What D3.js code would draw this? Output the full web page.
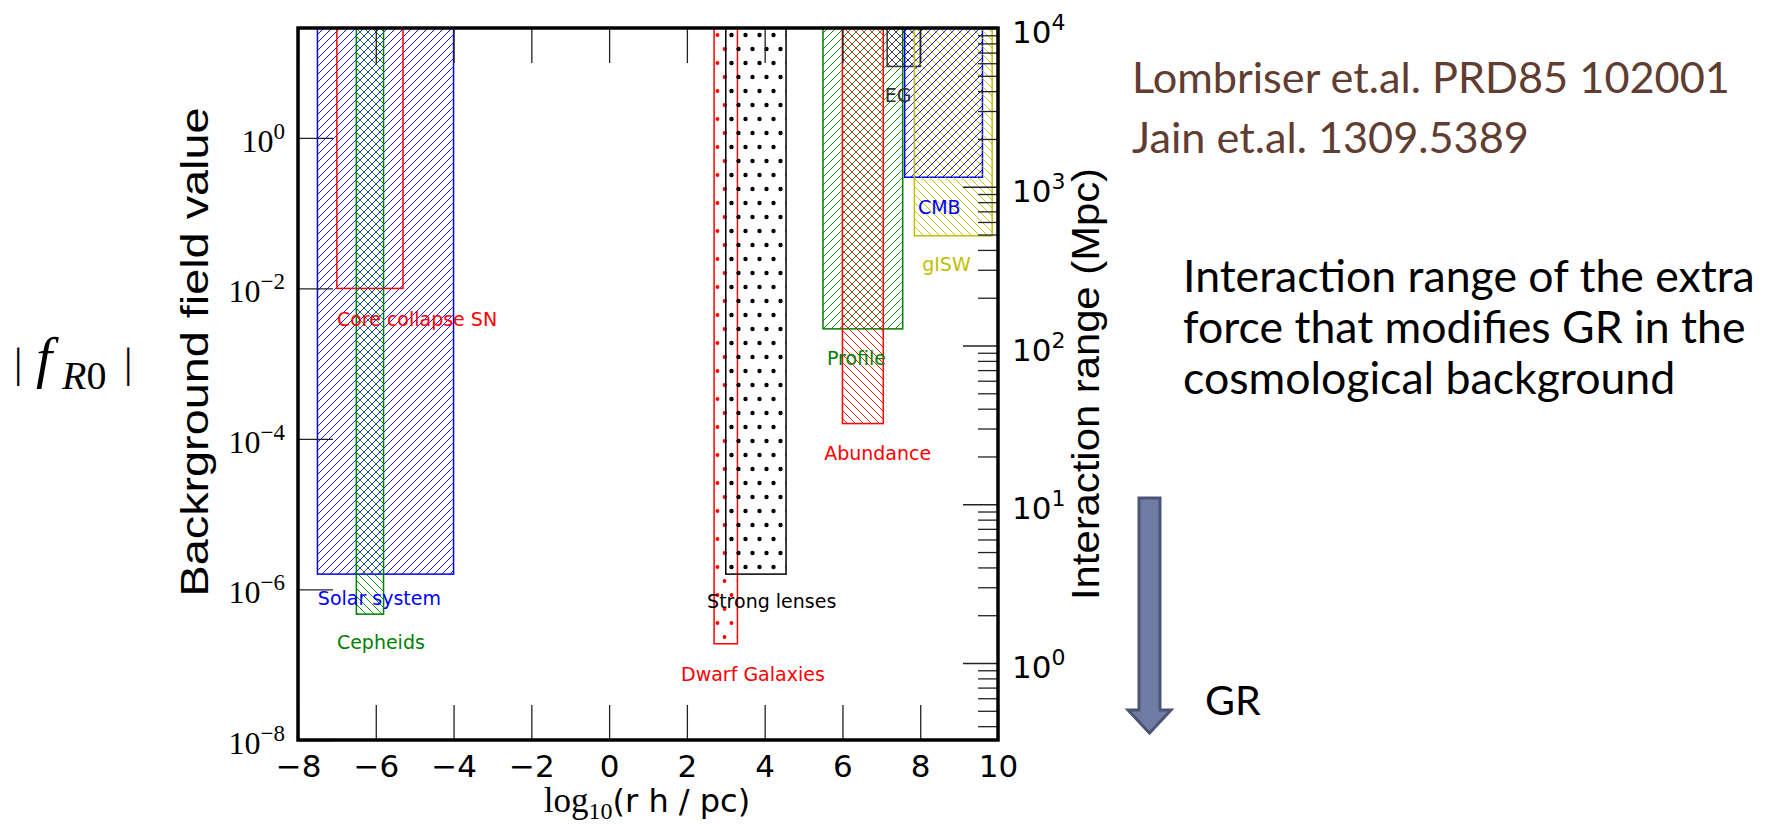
<!DOCTYPE html>
<html>
<head>
<meta charset="utf-8">
<script src="https://cdn.jsdelivr.net/npm/d3@7"></script>
<style>
  body { margin: 0; background: #fff; }
  svg { display: block; }
</style>
</head>
<body>
<svg id="chart" width="1775" height="825"></svg>
<script>
// ---- constraint data -------------------------------------------------------
// Each probe excludes |f_R0| above its lower bound, over a range of scales
// log10(r h / pc) from xLow to xHigh.
const probes  = ["Solar system", "Core collapse SN", "Cepheids", "Dwarf Galaxies", "Strong lenses",
                 "Profile", "Abundance", "EG", "CMB", "gISW"];
const xLow    = [-7.5, -7.0, -6.5, 2.7, 3.0, 5.5, 6.0, 7.15, 7.6, 7.85];
const xHigh   = [-4.0, -5.3, -5.8, 3.3, 4.55, 7.55, 7.05, 8.0, 9.6, 9.85];
const fLow    = [1.6e-6, 1e-2, 4.7e-7, 1.9e-7, 1.6e-6, 2.9e-3, 1.6e-4, 8.9, 0.3, 0.05];
const fHigh   = 1e3;                       // open upper end, clipped by the axes
const probeColor = ["#0000ff", "#ff0000", "#008000", "#ff0000", "#000000",
                    "#008000", "#ff0000", "#333333", "#0000ff", "#bfbf00"];
const probeHatch = ["fwd", "none", "back", "dots", "dots", "fwd", "back", "cross", "fwd", "back"];
// label anchors in data coordinates [log10 r, |f_R0|]
const labelX  = [-7.49, -7.0, -7.0, 1.85, 2.52, 5.6, 5.53, 7.09, 7.94, 8.05];
const labelF  = [6.2e-7, 3.2e-3, 1.6e-7, 6.1e-8, 5.6e-7, 9.6e-4, 5.2e-5, 3.0, 0.098, 0.017];

// ---- axes ---------------------------------------------------------------
const xDomain = [-8, 10];
const xTicks = [-8, -6, -4, -2, 0, 2, 4, 6, 8, 10];
const fDomain = [1e-8, Math.pow(10, 1.46)];
const fTicks = [1e-8, 1e-6, 1e-4, 1e-2, 1];
const rangeDomain = [Math.pow(10, -0.485), 1e4];      // interaction range (Mpc)
const rangeTicks = [1, 10, 100, 1000, 10000];

const xLabelText = { fn: "log", sub: "10", rest: "(r h / pc)" };
const yLabelText = "Backrground field value";
const y2LabelText = "Interaction range (Mpc)";
const refLines = ["Lombriser et.al. PRD85 102001", "Jain et.al. 1309.5389"];
const noteLines = ["Interaction range of the extra", "force that modifies GR in the", "cosmological background"];
const arrowText = "GR";

// ---- layout -------------------------------------------------------------
const P = { left: 298, right: 998, top: 28, bottom: 740 };
const svg = d3.select("#chart");
const defs = svg.append("defs");

const x = d3.scaleLinear().domain(xDomain).range([P.left, P.right]);
const y = d3.scaleLog().domain(fDomain).range([P.bottom, P.top]);
const y2 = d3.scaleLog().domain(rangeDomain).range([P.bottom, P.top]);

defs.append("clipPath").attr("id", "plotClip")
  .append("rect").attr("x", P.left).attr("y", P.top)
  .attr("width", P.right - P.left).attr("height", P.bottom - P.top);

// hatch fills, anchored to the page so neighbouring regions line up
function hatchPattern(id, color, kind) {
  if (kind === "none") return null;
  if (kind === "dots") {
    const p = defs.append("pattern").attr("id", id)
      .attr("patternUnits", "userSpaceOnUse").attr("width", 14).attr("height", 28);
    const r = color === "#000000" ? 2.2 : 1.9;
    [[3.5, 7], [10.5, 21]].forEach(([cx, cy]) =>
      p.append("circle").attr("cx", cx).attr("cy", cy).attr("r", r).attr("fill", color));
    return `url(#${id})`;
  }
  const s = 8;
  const p = defs.append("pattern").attr("id", id)
    .attr("patternUnits", "userSpaceOnUse").attr("width", s).attr("height", s);
  const fwd = `M-2,2 L2,-2 M0,${s} L${s},0 M${s - 2},${s + 2} L${s + 2},${s - 2}`;
  const back = `M-2,${s - 2} L2,${s + 2} M0,0 L${s},${s} M${s - 2},-2 L${s + 2},2`;
  const d = kind === "fwd" ? fwd : kind === "back" ? back : fwd + " " + back;
  p.append("path").attr("d", d).attr("stroke", color).attr("stroke-width", 0.9).attr("fill", "none");
  return `url(#${id})`;
}

const regions = probes.map((name, i) => ({
  name, x0: xLow[i], x1: xHigh[i], f0: fLow[i], f1: fHigh,
  color: probeColor[i], fill: hatchPattern("hatch" + i, probeColor[i], probeHatch[i]),
  lx: labelX[i], lf: labelF[i]
}));

const plot = svg.append("g").attr("clip-path", "url(#plotClip)");
plot.selectAll("rect.region").data(regions).join("rect")
  .attr("class", "region")
  .attr("x", d => x(d.x0))
  .attr("width", d => x(d.x1) - x(d.x0))
  .attr("y", d => y(d.f1))
  .attr("height", d => y(d.f0) - y(d.f1))
  .attr("fill", d => d.fill || "none")
  .attr("stroke", d => d.color)
  .attr("stroke-width", 1.5);

// region labels
svg.append("g").selectAll("text").data(regions).join("text")
  .attr("x", d => x(d.lx))
  .attr("y", d => y(d.lf))
  .attr("fill", d => d.color)
  .attr("font-family", "DejaVu Sans")
  .attr("font-size", 19)
  .text(d => d.name);

// ---- ticks ----------------------------------------------------------------
const tickColor = "#222";
function styleAxis(g) {
  g.select(".domain").remove();
  g.selectAll(".tick line").attr("stroke", tickColor).attr("stroke-width", 1.3);
}

svg.append("g").attr("transform", `translate(0,${P.bottom})`)
  .call(d3.axisBottom(x).tickValues(xTicks).tickSize(-35).tickPadding(15).tickFormat(d3.format("d")))
  .call(styleAxis)
  .call(g => g.selectAll("text").attr("font-family", "DejaVu Sans").attr("font-size", 31).attr("fill", "#000"));

svg.append("g").attr("transform", `translate(0,${P.top})`)
  .call(d3.axisTop(x).tickValues(xTicks).tickSize(-35).tickFormat(""))
  .call(styleAxis);

svg.append("g").attr("transform", `translate(${P.left},0)`)
  .call(d3.axisLeft(y).tickValues(fTicks).tickSize(-35).tickFormat(""))
  .call(styleAxis);

const rangeMinor = [];
for (let k = -1; k < 4; k++)
  for (let m = 2; m <= 9; m++) {
    const v = m * Math.pow(10, k);
    if (v >= rangeDomain[0] && v <= rangeDomain[1]) rangeMinor.push(v);
  }
svg.append("g").attr("transform", `translate(${P.right},0)`)
  .call(d3.axisRight(y2).tickValues(rangeTicks).tickSize(-35).tickFormat(""))
  .call(styleAxis);
svg.append("g").attr("transform", `translate(${P.right},0)`)
  .call(d3.axisRight(y2).tickValues(rangeMinor).tickSize(-20).tickFormat(""))
  .call(styleAxis);

// power-of-ten labels
const expOf = v => String(Math.round(Math.log10(v))).replace("-", "\u2212");
const leftLab = svg.append("g").selectAll("text").data(fTicks).join("text")
  .attr("x", P.left - 13).attr("y", d => y(d) + 14)
  .attr("text-anchor", "end").attr("font-family", "Liberation Serif").attr("fill", "#000");
leftLab.append("tspan").attr("font-size", 32).text("10");
leftLab.append("tspan").attr("font-size", 23).attr("dy", -13).text(d => expOf(d));

const rightLab = svg.append("g").selectAll("text").data(rangeTicks).join("text")
  .attr("x", P.right + 14).attr("y", d => y2(d) + 15)
  .attr("font-family", "DejaVu Sans").attr("fill", "#000");
rightLab.append("tspan").attr("font-size", 31).text("10");
rightLab.append("tspan").attr("font-size", 22).attr("dy", -13).text(d => expOf(d));

// axes frame
svg.append("rect").attr("x", P.left).attr("y", P.top)
  .attr("width", P.right - P.left).attr("height", P.bottom - P.top)
  .attr("fill", "none").attr("stroke", "#000").attr("stroke-width", 3.5);

// ---- axis titles ------------------------------------------------------------
const xl = svg.append("text").attr("x", 647).attr("y", 812)
  .attr("text-anchor", "middle").attr("fill", "#000");
xl.append("tspan").attr("font-family", "Liberation Serif").attr("font-size", 35).text(xLabelText.fn);
xl.append("tspan").attr("font-family", "Liberation Serif").attr("font-size", 24).attr("dy", 7).text(xLabelText.sub);
xl.append("tspan").attr("font-family", "DejaVu Sans").attr("font-size", 32).attr("dy", -7).text(xLabelText.rest);

// the two y titles are drawn elongated along their length
svg.append("text").attr("transform", `translate(208,352) rotate(-90)`)
  .attr("text-anchor", "middle").attr("font-family", "Liberation Sans").attr("font-size", 38)
  .attr("textLength", 489).attr("lengthAdjust", "spacingAndGlyphs")
  .attr("fill", "#000").text(yLabelText);

svg.append("text").attr("transform", `translate(1099,384) rotate(-90)`)
  .attr("text-anchor", "middle").attr("font-family", "Liberation Sans").attr("font-size", 38)
  .attr("textLength", 432).attr("lengthAdjust", "spacingAndGlyphs")
  .attr("fill", "#000").text(y2LabelText);

// |f_R0| symbol
const sym = svg.append("g").attr("font-family", "Liberation Serif").attr("fill", "#000");
sym.append("text").attr("x", 14).attr("y", 377).attr("font-size", 42).text("|");
sym.append("text").attr("x", 36).attr("y", 377).attr("font-size", 58).attr("font-style", "italic").text("f");
const sub = sym.append("text").attr("x", 62).attr("y", 389).attr("font-size", 40);
sub.append("tspan").attr("font-style", "italic").text("R");
sub.append("tspan").text("0");
sym.append("text").attr("x", 124).attr("y", 377).attr("font-size", 42).text("|");

// ---- side notes ---------------------------------------------------------------
function fitWidth(sel, target) {
  const w = sel.node().getComputedTextLength();
  const fs = parseFloat(sel.attr("font-size"));
  return fs * target / w;
}
const refs = svg.append("g").attr("font-family", "Lato").attr("fill", "#613d31");
const ref0 = refs.append("text").attr("x", 1132).attr("y", 93).attr("font-size", 40).text(refLines[0]);
const refSize = fitWidth(ref0, 598);
ref0.attr("font-size", refSize);
refs.append("text").attr("x", 1132).attr("y", 153).attr("font-size", refSize).text(refLines[1]);

const notes = svg.append("g").attr("font-family", "Lato").attr("fill", "#000");
const n0 = notes.append("text").attr("x", 1183).attr("y", 292).attr("font-size", 40).text(noteLines[0]);
const noteSize = fitWidth(n0, 572);
n0.attr("font-size", noteSize);
noteLines.slice(1).forEach((t, i) =>
  notes.append("text").attr("x", 1183).attr("y", 292 + 51 * (i + 1)).attr("font-size", noteSize).text(t));

// downward arrow toward the GR limit
const ax = 1149.5, aTop = 498, aNeck = 710, aTip = 733, shaft = 10.5, head = 21.5;
svg.append("path")
  .attr("d", `M${ax - shaft},${aTop} H${ax + shaft} V${aNeck} H${ax + head} L${ax},${aTip} L${ax - head},${aNeck} H${ax - shaft} Z`)
  .attr("fill", "#6f7ca4").attr("stroke", "#4c5578").attr("stroke-width", 3).attr("stroke-linejoin", "miter");
svg.append("text").attr("x", 1205).attr("y", 715).attr("font-family", "Lato").attr("font-size", noteSize * 0.92)
  .attr("fill", "#000").text(arrowText);
</script>
</body>
</html>
